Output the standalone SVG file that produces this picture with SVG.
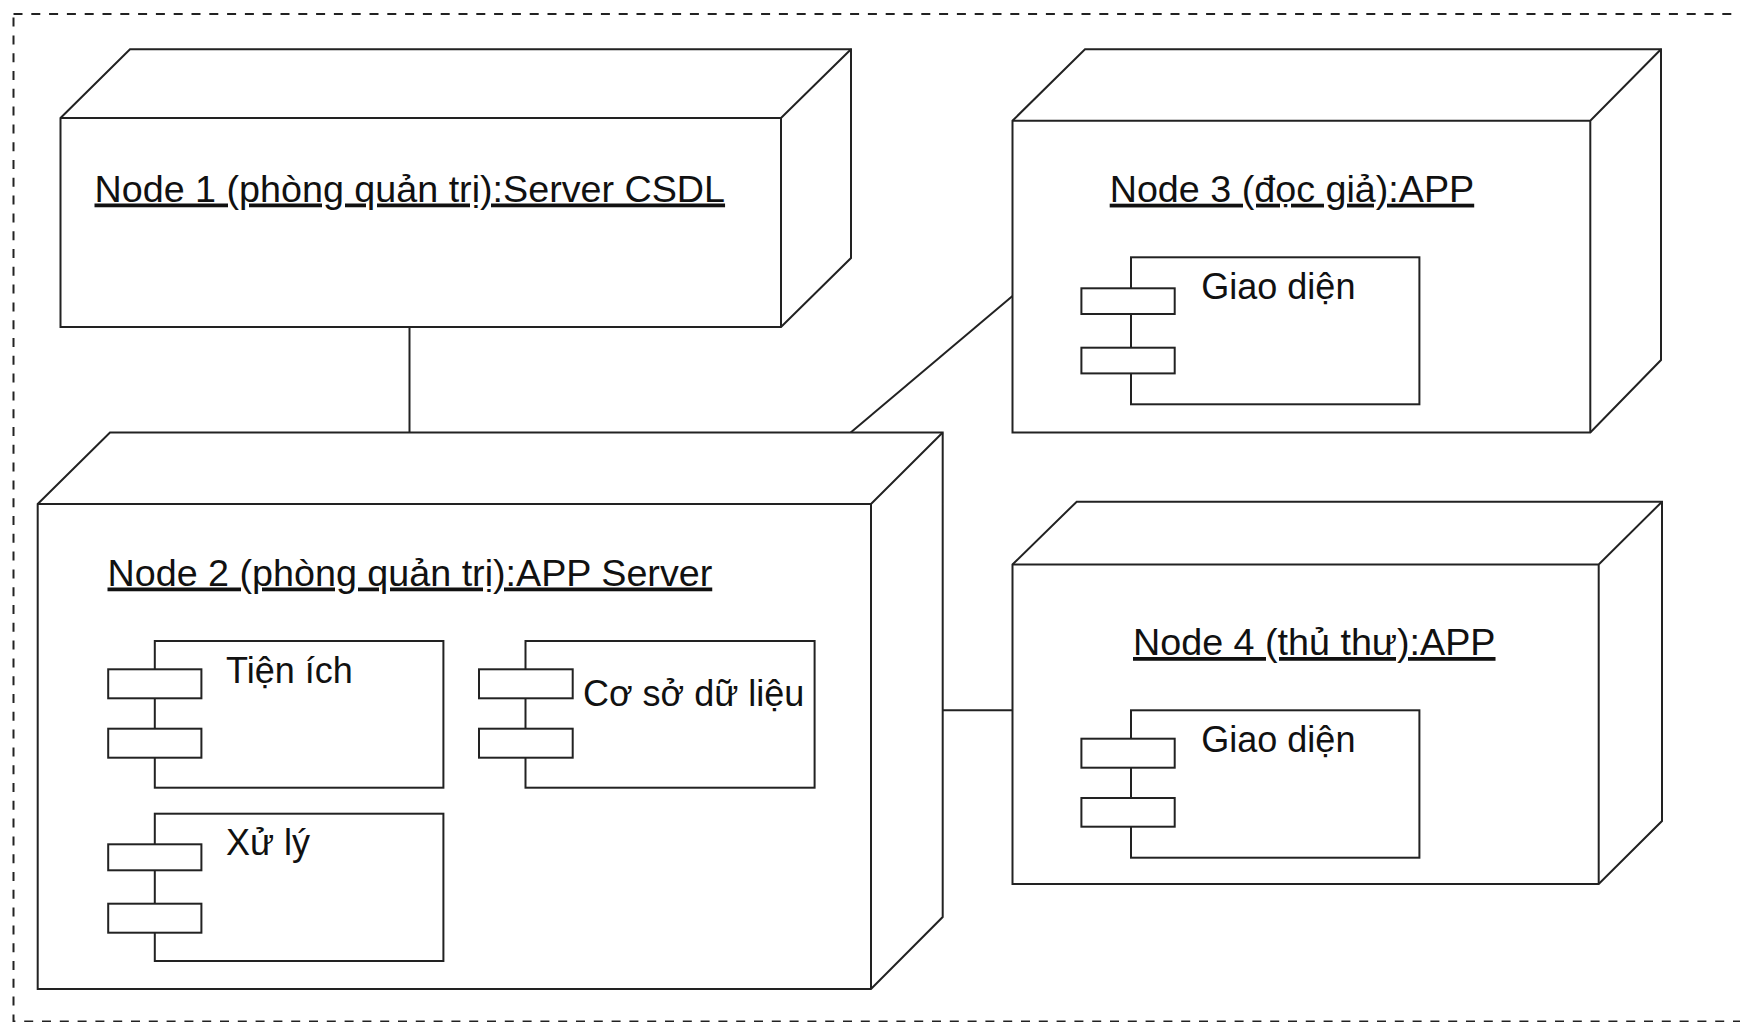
<svg xmlns="http://www.w3.org/2000/svg" width="1740" height="1022" viewBox="0 0 1740 1022">
<style>
.frame{fill:none;stroke:#222;stroke-width:2;stroke-dasharray:9 8.8}
.edge{fill:none;stroke:#222;stroke-width:2}
.box{fill:#fff;stroke:#222;stroke-width:2;stroke-linejoin:miter}
.ln{fill:none;stroke:#222;stroke-width:2}
.lbl{font-family:"Liberation Sans",Arial,sans-serif;font-size:37.7px;fill:#111;text-decoration:underline}
.ct{font-family:"Liberation Sans",Arial,sans-serif;font-size:36px;fill:#111}
</style>
<rect class="frame" x="13.5" y="14" width="1740" height="1007.5"/>
<g id="connectors">
<line class="edge" x1="409.5" y1="327" x2="409.5" y2="432.5"/>
<line class="edge" x1="850.7" y1="432.5" x2="1012.5" y2="296"/>
<line class="edge" x1="942.7" y1="710.3" x2="1012.5" y2="710.3"/>
</g>
<g id="node1">
<path class="box" d="M60.5,118 L130,49.3 L851,49.3 L851,258 L781,327 L60.5,327 Z"/>
<path class="ln" d="M60.5,118 L781,118 L851,49.3 M781,118 L781,327"/>
<text class="lbl" x="94.5" y="201.5">Node 1 (phòng quản trị):Server CSDL</text>
</g>
<g id="node2">
<path class="box" d="M37.7,504 L110,432.5 L942.7,432.5 L942.7,917 L871,989 L37.7,989 Z"/>
<path class="ln" d="M37.7,504 L871,504 L942.7,432.5 M871,504 L871,989"/>
<text class="lbl" x="107.5" y="585.5">Node 2 (phòng quản trị):APP Server</text>
<g id="comp-tienich">
<rect class="box" x="154.8" y="641" width="288.6" height="146.7"/>
<rect class="box" x="108.2" y="669.3" width="93.2" height="29"/>
<rect class="box" x="108.2" y="728.7" width="93.2" height="29"/>
<text class="ct" x="226" y="683.3">Tiện ích</text>
</g>
<g id="comp-csdl">
<rect class="box" x="525.5" y="641" width="289.1" height="146.7"/>
<rect class="box" x="479" y="669.3" width="93.7" height="29"/>
<rect class="box" x="479" y="728.7" width="93.7" height="29"/>
<text class="ct" x="583" y="706">Cơ sở dữ liệu</text>
</g>
<g id="comp-xuly">
<rect class="box" x="154.8" y="813.7" width="288.6" height="147.3"/>
<rect class="box" x="108.2" y="844.3" width="93.2" height="26"/>
<rect class="box" x="108.2" y="903.7" width="93.2" height="29"/>
<text class="ct" x="226" y="855.3">Xử lý</text>
</g>
</g>
<g id="node3">
<path class="box" d="M1012.5,120.7 L1085,49.3 L1661,49.3 L1661,360 L1590.3,432.5 L1012.5,432.5 Z"/>
<path class="ln" d="M1012.5,120.7 L1590.3,120.7 L1661,49.3 M1590.3,120.7 L1590.3,432.5"/>
<text class="lbl" x="1109.7" y="201.7">Node 3 (đọc giả):APP</text>
<g id="comp-giaodien3">
<rect class="box" x="1131" y="257.3" width="288.4" height="147"/>
<rect class="box" x="1081.4" y="288.3" width="93.3" height="25.7"/>
<rect class="box" x="1081.4" y="347.7" width="93.3" height="25.7"/>
<text class="ct" x="1201.3" y="299">Giao diện</text>
</g>
</g>
<g id="node4">
<path class="box" d="M1012.5,564.5 L1076.7,501.7 L1662,501.7 L1662,821 L1598.7,884 L1012.5,884 Z"/>
<path class="ln" d="M1012.5,564.5 L1598.7,564.5 L1662,501.7 M1598.7,564.5 L1598.7,884"/>
<text class="lbl" x="1133" y="655">Node 4 (thủ thư):APP</text>
<g id="comp-giaodien4">
<rect class="box" x="1131" y="710.3" width="288.4" height="147.4"/>
<rect class="box" x="1081.4" y="738.7" width="93.3" height="29"/>
<rect class="box" x="1081.4" y="798" width="93.3" height="28.7"/>
<text class="ct" x="1201.3" y="751.7">Giao diện</text>
</g>
</g>
</svg>
